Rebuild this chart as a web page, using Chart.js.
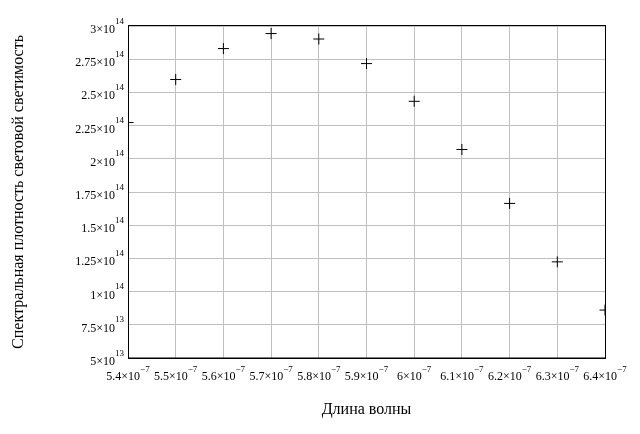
<!DOCTYPE html>
<html>
<head>
<meta charset="utf-8">
<script src="https://cdn.jsdelivr.net/npm/chart.js@4/dist/chart.umd.min.js"></script>
<style>
html,body{margin:0;padding:0;background:#fff;}
canvas{display:block;}
</style>
</head>
<body>
<canvas id="c" width="640" height="434"></canvas>
<script>
// Data
const wavelengths = [5.4e-7, 5.5e-7, 5.6e-7, 5.7e-7, 5.8e-7, 5.9e-7, 6.0e-7, 6.1e-7, 6.2e-7, 6.3e-7, 6.4e-7];
const luminosity  = [2.273e14, 2.597e14, 2.830e14, 2.943e14, 2.902e14, 2.717e14, 2.433e14, 2.070e14, 1.664e14, 1.224e14, 0.861e14];
const xTickLabels = ['5.4×10^−7','5.5×10^−7','5.6×10^−7','5.7×10^−7','5.8×10^−7','5.9×10^−7','6×10^−7','6.1×10^−7','6.2×10^−7','6.3×10^−7','6.4×10^−7'];
const yTickLabels = ['5×10^13','7.5×10^13','1×10^14','1.25×10^14','1.5×10^14','1.75×10^14','2×10^14','2.25×10^14','2.5×10^14','2.75×10^14','3×10^14'];
const xTitle = 'Длина волны';
const yTitle = 'Спектральная плотность световой светимость';

const FONT = "'Liberation Serif', 'Times New Roman', serif";

const supLabels = {
  id: 'supLabels',
  afterDraw(chart) {
    const ctx = chart.ctx;
    const xs = chart.scales.x, ys = chart.scales.y;
    const ca = chart.chartArea;
    ctx.save();
    // frame
    ctx.strokeStyle = '#000';
    ctx.lineWidth = 1;
    ctx.strokeRect(Math.round(ca.left) + 0.5, Math.round(ca.top) - 0.5, Math.round(ca.right - ca.left), Math.round(ca.bottom - ca.top) + 0.5);
    ctx.fillStyle = '#000';
    ctx.textBaseline = 'alphabetic';
    ctx.textAlign = 'left';
    const mainF = '12px ' + FONT, supF = '9px ' + FONT;
    xs.ticks.forEach((t, i) => {
      const lab = xTickLabels[i]; if (!lab) return;
      const [m, e] = lab.split('^');
      const px = xs.getPixelForValue(t.value);
      ctx.font = mainF; const w1 = ctx.measureText(m).width;
      ctx.font = supF; const w2 = ctx.measureText(e).width;
      const x0 = px - (w1 + w2) / 2;
      ctx.font = mainF; ctx.fillText(m, x0, 379.5);
      ctx.font = supF; ctx.fillText(e, x0 + w1, 371.5);
    });
    ys.ticks.forEach((t, i) => {
      const lab = yTickLabels[i]; if (!lab) return;
      const [m, e] = lab.split('^');
      const py = ys.getPixelForValue(t.value);
      ctx.font = mainF; const w1 = ctx.measureText(m).width;
      ctx.font = supF; const w2 = ctx.measureText(e).width;
      const R = 124;
      ctx.font = mainF; ctx.fillText(m, R - w2 - w1, py + 7);
      ctx.font = supF; ctx.fillText(e, R - w2, py - 2.5);
    });
    ctx.restore();
  }
};

new Chart(document.getElementById('c'), {
  type: 'scatter',
  data: {
    datasets: [{
      data: wavelengths.map((x, i) => ({x: x, y: luminosity[i]})),
      pointStyle: 'cross',
      pointRadius: 5.5,
      pointHoverRadius: 5.5,
      pointBorderWidth: 1,
      borderColor: '#000',
      backgroundColor: '#000',
      showLine: false,
      clip: 0
    }]
  },
  options: {
    responsive: false,
    animation: false,
    devicePixelRatio: 1,
    events: [],
    layout: { padding: { top: 26, right: 35, left: 0, bottom: 0 } },
    plugins: { legend: { display: false }, tooltip: { enabled: false } },
    scales: {
      x: {
        type: 'linear',
        min: 5.4e-7, max: 6.4e-7,
        ticks: { stepSize: 1e-8, display: false },
        grid: { color: '#c0c0c0', lineWidth: 1, drawTicks: false, tickLength: 0 },
        border: { display: true, color: '#000', width: 1 },
        title: { display: true, text: xTitle, color: '#000', font: { family: FONT, size: 16 }, padding: { top: 0, bottom: 15 } },
        afterFit(s) { s.height = 76; }
      },
      y: {
        type: 'linear',
        min: 5e13, max: 3e14,
        ticks: { stepSize: 2.5e13, display: false },
        grid: { color: '#c0c0c0', lineWidth: 1, drawTicks: false, tickLength: 0 },
        border: { display: true, color: '#000', width: 1 },
        title: { display: true, text: yTitle, color: '#000', font: { family: FONT, size: 16 }, padding: { top: 9, bottom: 0 } },
        afterFit(s) { s.width = 128; }
      }
    }
  },
  plugins: [supLabels]
});
</script>
</body>
</html>
